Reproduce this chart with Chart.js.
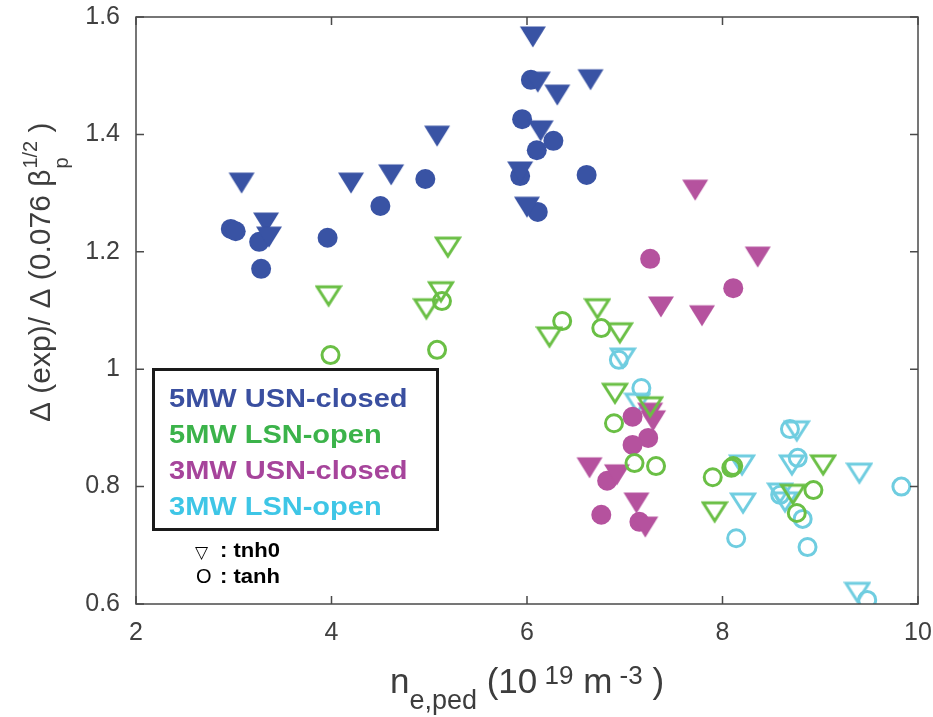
<!DOCTYPE html>
<html>
<head>
<meta charset="utf-8">
<script src="https://cdn.jsdelivr.net/npm/chart.js@4.4.1/dist/chart.umd.min.js"></script>
<style>
  html, body { margin: 0; padding: 0; background: #fff; }
  canvas { display: block; }
</style>
</head>
<body>
<canvas id="pedChart" width="933" height="717"></canvas>
<script>
// [n_e,ped, Delta ratio]
const usn5Tnh0 = [[6.06,1.566],[6.11,1.489],[6.31,1.467],[6.65,1.493],[6.14,1.406],[5.93,1.336],[6.00,1.276],
                  [3.08,1.317],[3.33,1.249],[3.36,1.225],[4.20,1.317],[4.61,1.331],[5.08,1.397]];
const usn5Tanh = [[2.97,1.239],[3.02,1.235],[3.26,1.217],[3.28,1.171],[3.96,1.224],[4.50,1.278],[4.96,1.324],
                  [6.04,1.493],[5.95,1.426],[6.10,1.373],[6.27,1.389],[5.93,1.329],[6.61,1.331],[6.11,1.268]];
const lsn5Tnh0 = [[5.19,1.208],[3.97,1.125],[5.12,1.132],[4.97,1.103],[6.72,1.103],[6.23,1.055],[6.95,1.062],
                  [6.90,0.959],[7.26,0.936],[7.92,0.757],[9.03,0.837],[8.72,0.787]];
const lsn5Tanh = [[5.13,1.116],[3.99,1.024],[5.08,1.033],[6.36,1.082],[6.76,1.070],[6.89,0.908],[7.10,0.840],
                  [7.32,0.835],[7.90,0.816],[8.09,0.832],[8.11,0.835],[8.93,0.794],[8.76,0.755]];
const usn3Tnh0 = [[7.72,1.305],[8.36,1.191],[7.37,1.106],[7.79,1.091],[7.26,0.925],[7.29,0.912],[6.64,0.832],
                  [6.92,0.820],[7.12,0.772],[7.21,0.731]];
const usn3Tanh = [[7.26,1.188],[8.11,1.138],[7.08,0.919],[7.24,0.883],[7.08,0.871],[6.82,0.810],[6.76,0.752],[7.15,0.740]];
const lsn3Tnh0 = [[6.98,1.019],[7.13,0.942],[8.20,0.837],[8.76,0.895],[8.71,0.837],[8.21,0.772],[8.59,0.789],
                  [8.64,0.774],[9.40,0.823],[9.38,0.620]];
const lsn3Tanh = [[6.94,1.016],[7.17,0.968],[8.69,0.898],[8.77,0.849],[8.82,0.745],[8.14,0.712],[8.87,0.697],
                  [9.83,0.800],[9.48,0.607],[8.59,0.786]];

const xTicks = [2, 4, 6, 8, 10];
const yTicks = [0.6, 0.8, 1, 1.2, 1.4, 1.6];
const legendLabels = ['5MW USN-closed', '5MW LSN-open', '3MW USN-closed', '3MW LSN-open'];

const BLUE = '#3953a4', GREEN = '#6abf45', MAGENTA = '#b5529e', CYAN = '#6fcde0';
const legendColors = ['#3a4fa0', '#3bb34a', '#a6449b', '#3ec6e6'];
const AXIS = '#4a4a4a';
const FONT = '"Liberation Sans", Arial, Helvetica, sans-serif';

// MATLAB-like squat down triangle marker
function triangle(color, filled) {
    const c = document.createElement('canvas');
    c.width = 28; c.height = 24;
    const g = c.getContext('2d');
    g.beginPath();
    if (filled) {
        g.moveTo(1, 1.5); g.lineTo(27, 1.5); g.lineTo(14, 22.5);
        g.closePath();
        g.fillStyle = color; g.fill();
    } else {
        g.moveTo(2.5, 3); g.lineTo(25.5, 3); g.lineTo(14, 21);
        g.closePath();
        g.strokeStyle = color; g.lineWidth = 3; g.lineJoin = 'miter'; g.stroke();
    }
    return c;
}

function pts(arr) { return arr.map(p => ({ x: p[0], y: p[1] })); }

function triSet(data, color, filled) {
    return { data: pts(data), pointStyle: triangle(color, filled), pointRadius: 12 };
}
function circSet(data, color, filled) {
    return filled
        ? { data: pts(data), pointStyle: 'circle', pointRadius: 10, backgroundColor: color, borderColor: color, borderWidth: 0 }
        : { data: pts(data), pointStyle: 'circle', pointRadius: 8.5, backgroundColor: 'rgba(0,0,0,0)', borderColor: color, borderWidth: 3 };
}

function sText(ctx, text, x, y, sx) {
    ctx.save();
    ctx.translate(x, y);
    ctx.scale(sx, 1);
    ctx.fillText(text, 0, 0);
    ctx.restore();
}

const framePlugin = {
    id: 'frame',
    afterDraw(chart) {
        const ctx = chart.ctx;
        const a = chart.chartArea;
        const xs = chart.scales.x, ys = chart.scales.y;

        // box with inward ticks
        ctx.save();
        ctx.strokeStyle = AXIS;
        ctx.lineWidth = 1.5;
        ctx.strokeRect(a.left, a.top, a.right - a.left, a.bottom - a.top);
        ctx.beginPath();
        xs.ticks.forEach(t => {
            const px = xs.getPixelForValue(t.value);
            ctx.moveTo(px, a.bottom); ctx.lineTo(px, a.bottom - 8);
            ctx.moveTo(px, a.top); ctx.lineTo(px, a.top + 8);
        });
        ys.ticks.forEach(t => {
            const py = ys.getPixelForValue(t.value);
            ctx.moveTo(a.left, py); ctx.lineTo(a.left + 8, py);
            ctx.moveTo(a.right, py); ctx.lineTo(a.right - 8, py);
        });
        ctx.stroke();
        ctx.restore();

        // x axis title: n_{e,ped}(10^{19} m^{-3} )
        ctx.save();
        ctx.fillStyle = '#3d3d3d';
        ctx.textBaseline = 'alphabetic';
        const xParts = [
            { t: 'n', s: 35, dy: 0 }, { t: 'e,ped', s: 27, dy: 16 }, { t: ' (10', s: 35, dy: 0 },
            { t: ' 19', s: 26, dy: -9 }, { t: ' m', s: 35, dy: 0 }, { t: ' -3', s: 26, dy: -9 }, { t: ' )', s: 35, dy: 0 }
        ];
        let total = 0;
        xParts.forEach(p => { ctx.font = p.s + 'px ' + FONT; p.w = ctx.measureText(p.t).width; total += p.w; });
        let cx = (a.left + a.right) / 2 - total / 2;
        xParts.forEach(p => {
            ctx.font = p.s + 'px ' + FONT;
            ctx.fillText(p.t, cx, 693 + p.dy);
            cx += p.w;
        });
        ctx.restore();

        // y axis title: Δ (exp)/ Δ (0.076 β_p^{1/2} )
        ctx.save();
        ctx.fillStyle = '#3d3d3d';
        ctx.translate(50, 422);
        ctx.rotate(-Math.PI / 2);
        ctx.font = '30px ' + FONT;
        const main = '\u0394 (exp)/ \u0394 (0.076 \u03b2';
        ctx.fillText(main, 0, 0);
        let u = ctx.measureText(main).width + 1;
        ctx.font = '20px ' + FONT;
        ctx.fillText('p', u, 18);
        ctx.fillText('1/2', u, -13);
        u += ctx.measureText('1/2').width;
        ctx.font = '30px ' + FONT;
        ctx.fillText(' )', u, 0);
        ctx.restore();

        // legend box
        ctx.save();
        ctx.strokeStyle = '#1a1a1a';
        ctx.lineWidth = 3;
        ctx.strokeRect(153.5, 369.5, 284, 160);
        ctx.font = 'bold 25px ' + FONT;
        legendLabels.forEach((lab, i) => {
            ctx.fillStyle = legendColors[i];
            sText(ctx, lab, 169, 407 + i * 36, 1.16);
        });
        ctx.fillStyle = '#000';
        ctx.font = '17px "DejaVu Sans", sans-serif';
        ctx.fillText('\u25bd', 195, 558);
        ctx.font = '20px ' + FONT;
        ctx.fillText('O', 196, 583);
        ctx.font = 'bold 21px ' + FONT;
        sText(ctx, ': tnh0', 220, 557, 1.05);
        sText(ctx, ': tanh', 220, 583, 1.05);
        ctx.restore();
    }
};

new Chart(document.getElementById('pedChart'), {
    type: 'scatter',
    data: {
        datasets: [
            triSet(usn5Tnh0, BLUE, true),
            circSet(usn5Tanh, BLUE, true),
            triSet(lsn5Tnh0, GREEN, false),
            circSet(lsn5Tanh, GREEN, false),
            triSet(usn3Tnh0, MAGENTA, true),
            circSet(usn3Tanh, MAGENTA, true),
            triSet(lsn3Tnh0, CYAN, false),
            circSet(lsn3Tanh, CYAN, false)
        ]
    },
    options: {
        responsive: false,
        animation: false,
        devicePixelRatio: 1,
        events: [],
        layout: { padding: { top: 17, right: 15, left: 0, bottom: 0 } },
        plugins: { legend: { display: false }, tooltip: { enabled: false } },
        scales: {
            x: {
                type: 'linear', min: 2, max: 10,
                afterBuildTicks: s => { s.ticks = xTicks.map(v => ({ value: v })); },
                afterFit: s => { s.height = 113; s.paddingLeft = 0; s.paddingRight = 0; },
                grid: { display: false, drawTicks: false },
                border: { display: false },
                ticks: { color: '#404040', font: { family: FONT, size: 25 }, padding: 14, callback: v => String(v) }
            },
            y: {
                type: 'linear', min: 0.6, max: 1.6,
                afterBuildTicks: s => { s.ticks = yTicks.map(v => ({ value: v })); },
                afterFit: s => { s.width = 136; s.paddingTop = 0; s.paddingBottom = 0; },
                grid: { display: false, drawTicks: false },
                border: { display: false },
                ticks: { color: '#404040', font: { family: FONT, size: 25 }, padding: 16, callback: v => String(v) }
            }
        }
    },
    plugins: [framePlugin]
});
</script>
</body>
</html>
